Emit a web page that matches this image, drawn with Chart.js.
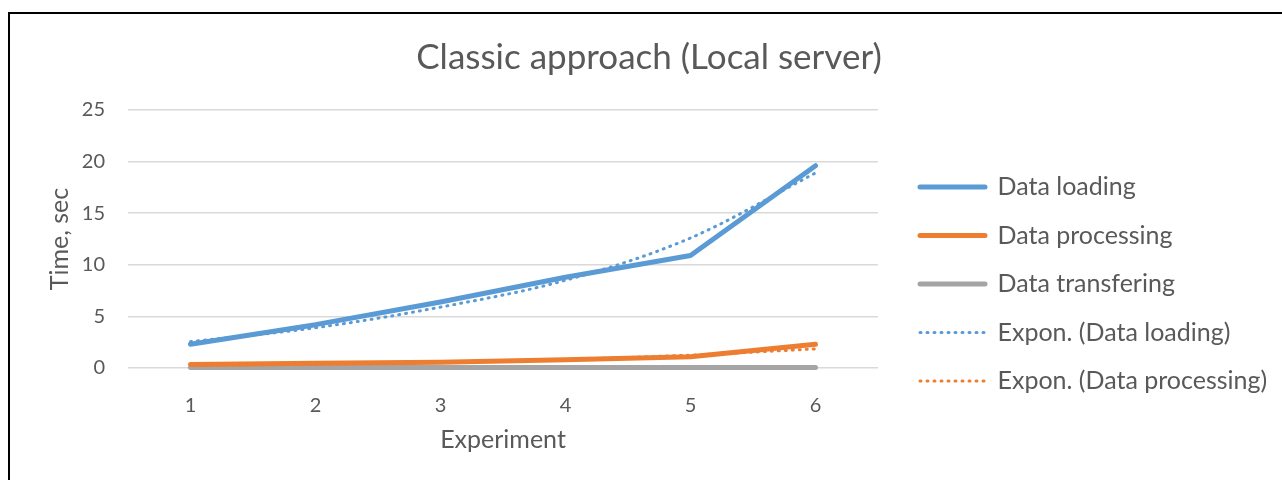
<!DOCTYPE html>
<html>
<head>
<meta charset="utf-8">
<script src="https://cdn.jsdelivr.net/npm/chart.js@4"></script>
<style>
    body { margin: 0; overflow: hidden; background: #fff; }
    #box { position: absolute; left: 8px; top: 12px; width: 1278px; height: 466px; border: 2px solid #000; }
</style>
</head>
<body>
<div id="box"><canvas id="timeChart"></canvas></div>
<script>
const experiments = ["1", "2", "3", "4", "5", "6"];
const dataLoading = [2.3, 4.2, 6.4, 8.8, 10.9, 19.6];
const dataProcessing = [0.35, 0.45, 0.55, 0.8, 1.1, 2.3];
const dataTransfering = [0.05, 0.05, 0.05, 0.05, 0.05, 0.05];
const exponLoading = [2.55, 3.9, 5.9, 8.5, 12.6, 18.9];
const exponProcessing = [0.25, 0.37, 0.55, 0.82, 1.25, 1.85];

const blue = "#5b9bd5";
const orange = "#ed7d31";
const gray = "#a5a5a5";
const textColor = "#595959";

Chart.defaults.font.family = "Lato";
Chart.defaults.color = textColor;

function solid(label, data, color) {
    return {
        label: label,
        data: data,
        borderColor: color,
        backgroundColor: color,
        borderWidth: 5,
        borderCapStyle: 'round',
        borderJoinStyle: 'round',
        pointRadius: 0,
        clip: 8,
        order: 1
    };
}

function trend(label, data, color) {
    return {
        label: label,
        data: data,
        borderColor: color,
        backgroundColor: color,
        borderWidth: 3,
        borderDash: [1, 6],
        borderCapStyle: 'round',
        cubicInterpolationMode: 'monotone',
        pointRadius: 0,
        clip: 8,
        order: 0
    };
}

// legend box fills the space right of the plot, items moved down a bit
const legendPlace = {
    id: 'legendPlace',
    beforeInit(chart) {
        const fit = chart.legend.fit;
        chart.legend.fit = function () {
            fit.call(this);
            this.width = 391.5;
        };
    },
    afterLayout(chart) {
        chart.legend.top += 49;
        chart.legend.bottom += 49;
    }
};

const ctx = document.getElementById("timeChart").getContext('2d');
const chart = new Chart(ctx, {
    type: 'line',
    data: {
        labels: experiments,
        datasets: [
            solid("Data loading", dataLoading, blue),
            solid("Data processing", dataProcessing, orange),
            solid("Data transfering", dataTransfering, gray),
            trend("Expon. (Data loading)", exponLoading, blue),
            trend("Expon. (Data processing)", exponProcessing, orange)
        ]
    },
    options: {
        responsive: true,
        maintainAspectRatio: false,
        animation: false,
        layout: { padding: { left: 0, right: 0, top: 0, bottom: 24 } },
        plugins: {
            title: {
                display: true,
                text: "Classic approach (Local server)",
                color: textColor,
                font: { size: 35, weight: 'normal' },
                padding: { top: 22.5, bottom: 31.5 }
            },
            legend: {
                position: 'right',
                labels: {
                    usePointStyle: true,
                    pointStyle: 'line',
                    pointStyleWidth: 65,
                    boxWidth: 65,
                    padding: 23.5,
                    color: textColor,
                    font: { size: 25 },
                    sort: (a, b) => a.datasetIndex - b.datasetIndex,
                    generateLabels(chart) {
                        const items = Chart.defaults.plugins.legend.labels.generateLabels(chart);
                        items.forEach(item => {
                            const ds = chart.data.datasets[item.datasetIndex];
                            item.lineDash = ds.borderDash || [];
                            item.lineCap = 'round';
                            item.lineWidth = ds.borderWidth;
                            item.strokeStyle = ds.borderColor;
                        });
                        return items;
                    }
                }
            },
            tooltip: { enabled: false }
        },
        scales: {
            x: {
                offset: true,
                grid: { display: false },
                border: { display: false },
                ticks: { font: { size: 20 }, padding: 18, color: textColor },
                title: {
                    display: true,
                    text: "Experiment",
                    color: textColor,
                    font: { size: 25 },
                    padding: { top: 0, bottom: 1 }
                },
                afterFit(scale) { scale.height = 88; }
            },
            y: {
                min: 0,
                max: 25,
                ticks: { stepSize: 5, font: { size: 20 }, padding: 23, color: textColor },
                grid: { color: "#d9d9d9", lineWidth: 1.5, drawTicks: false },
                border: { display: false },
                title: {
                    display: true,
                    text: "Time, sec",
                    color: textColor,
                    font: { size: 25 },
                    padding: { top: 35, bottom: 0 }
                },
                afterFit(scale) { scale.width = 118; }
            },
            spacer: {
                type: 'linear',
                position: 'right',
                display: true,
                grid: { display: false },
                border: { display: false },
                ticks: { display: false },
                afterFit(scale) { scale.width = 18.5; }
            }
        }
    },
    plugins: [legendPlace]
});
</script>
</body>
</html>
